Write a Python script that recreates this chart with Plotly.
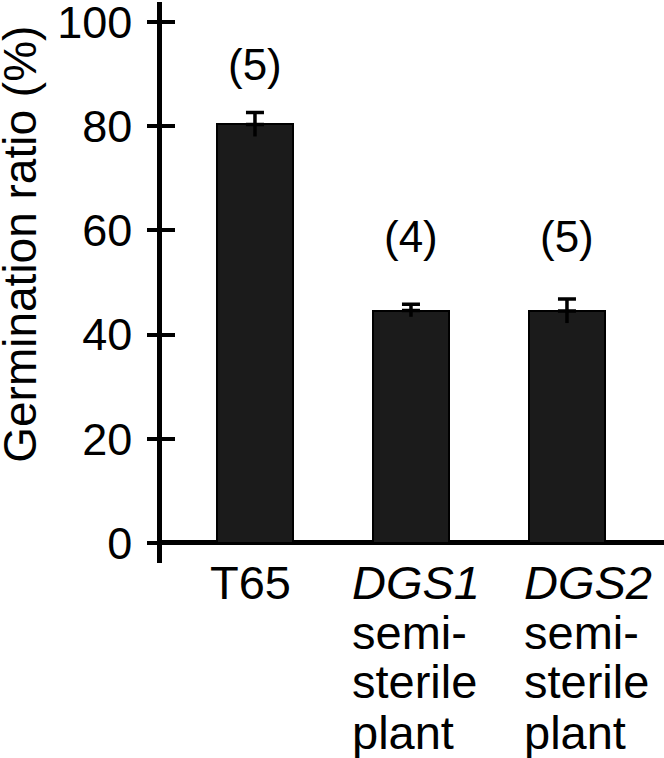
import plotly.graph_objects as go

# ---- data ----
categories = ["T65", "DGS1", "DGS2"]
label_lines = [
    ["T65"],
    ["<i>DGS1</i>", "semi-", "sterile", "plant"],
    ["<i>DGS2</i>", "semi-", "sterile", "plant"],
]
germination = [80.3, 44.6, 44.5]
sem = [2.3, 1.2, 2.3]
n_counts = ["(5)", "(4)", "(5)"]
y_ticks = [0, 20, 40, 60, 80, 100]

# ---- style ----
FONT = "Liberation Sans, Arial, sans-serif"
xpos = list(range(len(categories)))
count_label_y = [91.9, 58.9, 58.9]
label_xshift = [-47, -61, -45]
line_shift = [-19, -69, -118, -169]
zeros = [0 for _ in sem]

fig = go.Figure()
fig.add_trace(go.Bar(
    x=xpos, y=germination, width=0.487,
    marker=dict(color="#1b1b1b", line=dict(color="#000000", width=2)),
    error_y=dict(type="data", symmetric=False, array=sem, arrayminus=zeros,
                 visible=True, color="#000000", thickness=3.5, width=9),
    showlegend=False, hoverinfo="skip",
))
# lower half of the error bars (stem only, no cap)
fig.add_trace(go.Scatter(
    x=xpos, y=germination, mode="markers", marker=dict(opacity=0),
    error_y=dict(type="data", symmetric=False, array=zeros, arrayminus=sem,
                 visible=True, color="#000000", thickness=3.5, width=0),
    showlegend=False, hoverinfo="skip",
))
# invisible trace to activate the overlay axis (inside ticks)
fig.add_trace(go.Scatter(x=[xpos[0]], y=[0], yaxis="y2", mode="markers",
                         marker=dict(opacity=0), showlegend=False, hoverinfo="skip"))

annotations = []
for i, t in enumerate(n_counts):
    annotations.append(dict(x=xpos[i], y=count_label_y[i], xref="x", yref="y",
                            text=t, showarrow=False,
                            font=dict(family=FONT, size=44, color="black"),
                            xanchor="center", yanchor="middle"))
for i, lines in enumerate(label_lines):
    for j, ln in enumerate(lines):
        annotations.append(dict(x=xpos[i], y=0, xref="x", yref="paper",
                                text=ln, showarrow=False,
                                font=dict(family=FONT, size=47, color="black"),
                                xanchor="left", yanchor="middle",
                                xshift=label_xshift[i], yshift=line_shift[j]))
annotations.append(dict(x=-0.282, y=0.568, xref="paper", yref="paper",
                        text="Germination ratio (%)", textangle=-90, showarrow=False,
                        font=dict(family=FONT, size=46, color="black"),
                        xanchor="center", yanchor="middle"))

yr = [-3.84, 103.8]
fig.update_layout(
    width=664, height=758,
    margin=dict(l=162, r=0, t=2, b=195, autoexpand=False),
    paper_bgcolor="white", plot_bgcolor="white",
    font=dict(family=FONT, color="black"),
    xaxis=dict(range=[-0.596, 2.622], showticklabels=False, ticks="",
               showline=False, showgrid=False, zeroline=False,
               automargin=False, fixedrange=True),
    yaxis=dict(range=yr, tickvals=y_ticks, ticks="outside", ticklen=10,
               tickwidth=4, tickcolor="black", showline=True, linewidth=4.5,
               linecolor="black", showgrid=False, zeroline=True,
               zerolinecolor="black", zerolinewidth=4.5,
               tickfont=dict(family=FONT, size=45, color="black"),
               ticklabelstandoff=6, ticklabeloverflow="allow",
               automargin=False),
    yaxis2=dict(range=yr, overlaying="y", side="left", tickvals=y_ticks,
                ticks="inside", ticklen=13, tickwidth=4, tickcolor="black",
                showticklabels=False, showline=False, showgrid=False,
                zeroline=False, automargin=False),
    annotations=annotations,
    bargap=0,
)
fig.write_html("out.html", config={"displayModeBar": False},
               post_script="document.body.style.margin='0px';document.body.style.overflow='hidden';")
